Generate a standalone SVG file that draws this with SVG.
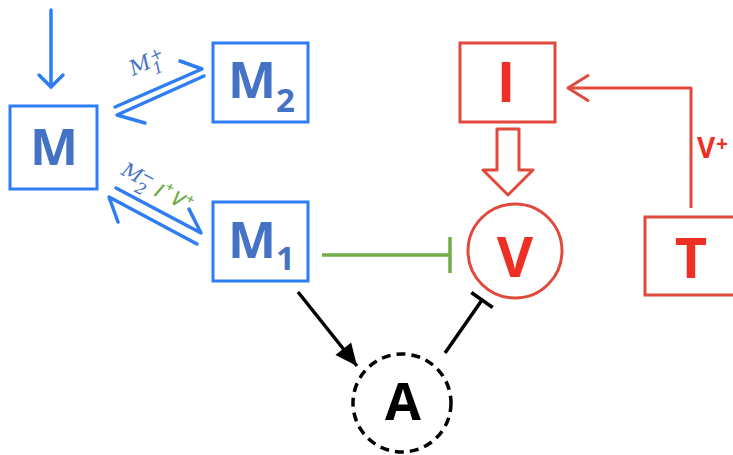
<svg xmlns="http://www.w3.org/2000/svg" width="733" height="455" viewBox="0 0 733 455">
<defs>
<style>
.bbox{fill:#fff;stroke:#2F7DF2;stroke-width:3}
.rbox{fill:#fff;stroke:#E0493B;stroke-width:3}
.btxt{font-family:"Open Sans","Liberation Sans",sans-serif;font-weight:bold;fill:#4472C4}
.rtxt{font-family:"Open Sans","Liberation Sans",sans-serif;font-weight:bold;fill:#EE3024}
.ktxt{font-family:"Open Sans","Liberation Sans",sans-serif;font-weight:bold;fill:#000}
.blue{fill:none;stroke:#2F7DF2;stroke-width:3.5;stroke-linecap:round;stroke-linejoin:round}
.red{fill:none;stroke:#E0493B;stroke-width:3;stroke-linejoin:round}
.math{font-family:"DejaVu Serif","Liberation Serif",serif;font-style:italic;fill:#4472C4}
.gtxt{font-family:"Open Sans","Liberation Sans",sans-serif;font-style:italic;font-weight:600;fill:#70AD47}
</style>
<marker id="openBlue" markerUnits="userSpaceOnUse" viewBox="-16 -16 32 32" markerWidth="32" markerHeight="32" refX="0" refY="0" orient="auto" overflow="visible">
<path d="M-12,-12 L0,0 L-12,12" fill="none" stroke="#2F7DF2" stroke-width="3.5" stroke-linecap="round" stroke-linejoin="round"/>
</marker>
<marker id="openRed" markerUnits="userSpaceOnUse" viewBox="-24 -16 32 32" markerWidth="32" markerHeight="32" refX="0" refY="0" orient="auto" overflow="visible">
<path d="M-20,-12.5 L0,0 L-20,12.5" fill="none" stroke="#E0493B" stroke-width="3" stroke-linecap="round" stroke-linejoin="round"/>
</marker>
<marker id="filledBlack" markerUnits="userSpaceOnUse" viewBox="-24 -12 26 24" markerWidth="26" markerHeight="24" refX="0" refY="0" orient="auto" overflow="visible">
<path d="M-22,-10 L0,0 L-22,10 Z" fill="#000"/>
</marker>
<marker id="teeGreen" markerUnits="userSpaceOnUse" viewBox="-4 -20 8 40" markerWidth="8" markerHeight="40" refX="0" refY="0" orient="auto" overflow="visible">
<path d="M0,-18 L0,18" stroke="#70AD47" stroke-width="3.5"/>
</marker>
<marker id="teeBlack" markerUnits="userSpaceOnUse" viewBox="-4 -16 8 32" markerWidth="8" markerHeight="32" refX="0" refY="0" orient="auto" overflow="visible">
<path d="M0,-13 L0,13" stroke="#000" stroke-width="3.5"/>
</marker>
</defs>
<rect width="733" height="455" fill="#fff"/>

<g id="connectors">
<path class="blue" d="M51,10 L51,87" marker-end="url(#openBlue)"/>
<path class="blue" d="M115,107 L202,69 L180,61"/>
<path class="blue" d="M204,76 L117,115 L145,123"/>
<path class="blue" d="M116,188 L201,233 L189,209"/>
<path class="blue" d="M197,244 L109,197 L118,222"/>
<path d="M322,255 L450,255" stroke="#70AD47" stroke-width="3.5" fill="none" marker-end="url(#teeGreen)"/>
<path d="M298,292 L357,366" stroke="#000" stroke-width="3.5" fill="none" marker-end="url(#filledBlack)"/>
<path d="M445,353 L482,300" stroke="#000" stroke-width="3.5" fill="none" marker-end="url(#teeBlack)"/>
<path class="red" d="M691,208 L691,88 L568,88" marker-end="url(#openRed)"/>
<polygon class="red" fill="#fff" points="497,129 519,129 519,170 533,170 508,195 483,170 497,170"/>
<g transform="translate(133,76) rotate(-24)">
<text class="math" x="0" y="0" style="font-size:21px">M</text>
<text class="math" x="21" y="8" style="font-size:16px">1</text>
<text class="math" x="23" y="-5" style="font-size:16px">+</text>
</g>
<g transform="translate(120,174) rotate(28)">
<text class="math" x="0" y="0" style="font-size:20px">M</text>
<text class="math" x="20" y="9" style="font-size:16px">2</text>
<text class="math" x="20" y="-6" style="font-size:16px">−</text>
<text class="gtxt" x="39" y="3" style="font-size:20px">I</text>
<text class="gtxt" x="46" y="-7" style="font-size:14px">+</text>
<text class="gtxt" x="57" y="2" style="font-size:20px">V</text>
<text class="gtxt" x="70" y="-6" style="font-size:14px">+</text>
</g>
<text class="rtxt" x="697" y="158" style="font-size:28px">V</text>
<text class="rtxt" x="716" y="151" style="font-size:21px">+</text>
</g>

<g id="node-M">
<rect class="bbox" x="10" y="106" width="87" height="83"/>
<text class="btxt" x="54" y="165" style="font-size:51px" text-anchor="middle">M</text>
</g>
<g id="node-M2">
<rect class="bbox" x="213" y="43" width="95" height="79"/>
<text class="btxt" x="228" y="98" style="font-size:51px">M</text>
<text class="btxt" x="276" y="112" style="font-size:33px">2</text>
</g>
<g id="node-M1">
<rect class="bbox" x="213" y="202" width="95" height="79"/>
<text class="btxt" x="228" y="258" style="font-size:51px">M</text>
<text class="btxt" x="276" y="270" style="font-size:33px">1</text>
</g>
<g id="node-I">
<rect class="rbox" x="460" y="43" width="95" height="79"/>
<text class="rtxt" x="506" y="102" style="font-size:56px" text-anchor="middle">I</text>
</g>
<g id="node-V">
<circle cx="515" cy="251" r="47" fill="#fff" stroke="#E0493B" stroke-width="3"/>
<text class="rtxt" x="515" y="277" style="font-size:56px" text-anchor="middle">V</text>
</g>
<g id="node-T">
<rect class="rbox" x="645" y="217" width="100" height="78"/>
<text class="rtxt" x="691" y="278" style="font-size:56px" text-anchor="middle">T</text>
</g>
<g id="node-A">
<circle cx="402" cy="403" r="49" fill="#fff" stroke="#000" stroke-width="3.5" stroke-dasharray="9,6"/>
<text class="ktxt" x="403" y="420" style="font-size:52px" text-anchor="middle">A</text>
</g>
</svg>
